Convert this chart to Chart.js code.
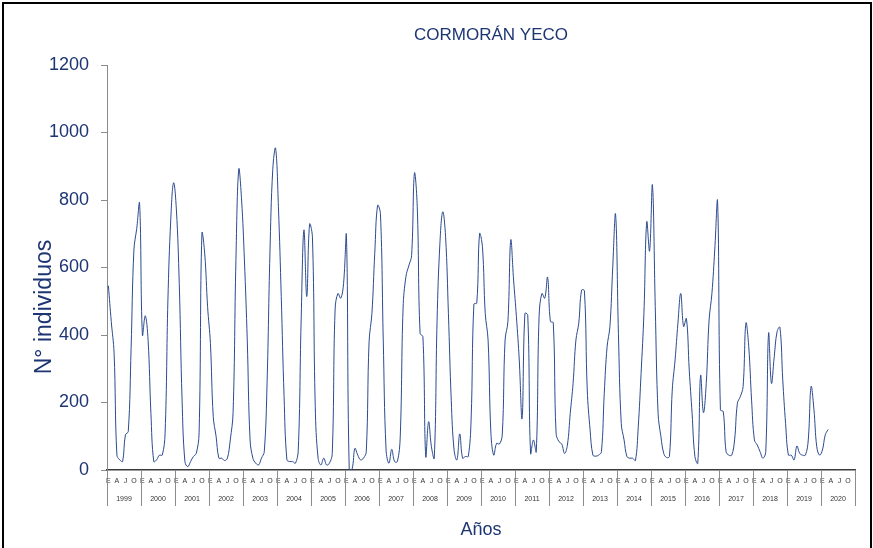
<!DOCTYPE html>
<html>
<head>
<meta charset="utf-8">
<script src="https://cdn.jsdelivr.net/npm/chart.js@4.4.1/dist/chart.umd.min.js"></script>
<style>
    html, body { margin: 0; padding: 0; background: #fff; overflow: hidden; }
    #wrap { position: absolute; left: 0; top: 0; width: 873px; height: 548px; }
    #frame { position: absolute; left: 2px; top: 2px; width: 866px; height: 560px; border: 2px solid #000; pointer-events: none; }
</style>
</head>
<body>
<div id="wrap"><canvas id="chart" width="873" height="548"></canvas></div>
<div id="frame"></div>
<script>
// year groups and month letters (E = enero ... D = diciembre)
const years = [1999, 2000, 2001, 2002, 2003, 2004, 2005, 2006, 2007, 2008, 2009,
    2010, 2011, 2012, 2013, 2014, 2015, 2016, 2017, 2018, 2019, 2020];
const monthLetters = ["E", "F", "M", "A", "M", "J", "J", "A", "S", "O", "N", "D"];
const shownMonths = [0, 3, 6, 9];
const yTicks = [0, 200, 400, 600, 800, 1000, 1200];

// monthly counts (data ends March 2020)
const counts = [
    546, 440, 346, 44, 30, 25, 104, 114, 360, 652, 716, 790,   // 1999
    400, 457, 385, 168, 25, 30, 44, 44, 109, 504, 741, 851,    // 2000
    770, 553, 207, 25, 10, 25, 40, 49, 110, 701, 640, 484,     // 2001
    375, 158, 100, 35, 35, 28, 35, 89, 170, 620, 891, 800,     // 2002
    622, 385, 89, 35, 20, 15, 35, 54, 260, 640, 890, 953,      // 2003
    780, 514, 217, 30, 25, 25, 20, 59, 435, 711, 514, 728,     // 2004
    691, 188, 35, 15, 35, 15, 20, 49, 474, 523, 509, 553,      // 2005
    694, 0, 3, 64, 44, 30, 35, 54, 380, 464, 642, 784,         // 2006
    760, 385, 59, 20, 61, 25, 25, 100, 480, 573, 605, 635,     // 2007
    879, 780, 405, 395, 40, 143, 69, 35, 444, 672, 765, 691,   // 2008
    464, 207, 59, 30, 107, 35, 40, 40, 148, 492, 494, 700,     // 2009
    662, 464, 385, 109, 44, 79, 77, 104, 385, 440, 681, 563,   // 2010
    454, 326, 153, 464, 459, 49, 89, 54, 454, 523, 509, 571,   // 2011
    440, 437, 109, 84, 77, 49, 74, 168, 257, 385, 435, 533,    // 2012
    531, 237, 119, 44, 41, 44, 54, 227, 365, 425, 602, 757,    // 2013
    405, 138, 89, 40, 35, 35, 28, 128, 286, 464, 735, 649,     // 2014
    844, 484, 168, 99, 49, 37, 40, 237, 326, 435, 523, 425,    // 2015
    449, 296, 168, 40, 20, 280, 170, 257, 444, 523, 652, 795,  // 2016
    178, 173, 54, 44, 44, 89, 198, 217, 247, 435, 365, 207,    // 2017
    89, 74, 54, 35, 54, 405, 257, 336, 410, 423, 267, 138,     // 2018
    44, 44, 30, 71, 49, 44, 44, 89, 247, 180, 69, 44,          // 2019
    59, 104, 120                                               // 2020
];

const navy = "#1d3573";
const fontFamily = "'Liberation Sans', Arial, sans-serif";

const labels = [];
years.forEach(yr => monthLetters.forEach((m, i) => labels.push(i + "-" + yr)));
const series = labels.map((_, i) => (i < counts.length ? counts[i] : null));

// title, y title and the year row under the month letters
const decorations = {
    id: "decorations",
    afterDraw(chart) {
        const {ctx} = chart;
        const x = chart.scales.x;
        ctx.save();
        ctx.fillStyle = navy;
        ctx.font = "17px " + fontFamily;
        ctx.textAlign = "center";
        ctx.textBaseline = "middle";
        ctx.fillText("CORMORÁN YECO", 491, 35);

        ctx.save();
        ctx.translate(45, 307);
        ctx.rotate(-Math.PI / 2);
        ctx.font = "23px " + fontFamily;
        ctx.fillText("N° individuos", 0, 0);
        ctx.restore();

        ctx.strokeStyle = "#8c8c8c";
        ctx.lineWidth = 1;
        for (let k = 0; k <= years.length; k++) {
            const px = Math.round(x.getPixelForValue(k * 12 - 0.5)) + 0.5;
            ctx.beginPath();
            ctx.moveTo(px, x.top);
            ctx.lineTo(px, x.top + 36);
            ctx.stroke();
        }
        ctx.fillStyle = "#333";
        ctx.font = "7px " + fontFamily;
        years.forEach((yr, k) => {
            ctx.fillText(String(yr), x.getPixelForValue(k * 12 + 5.5), 499);
        });
        ctx.restore();
    },
};

new Chart(document.getElementById("chart"), {
    type: "line",
    data: {
        labels,
        datasets: [{
            data: series,
            borderColor: "#2c4b8e",
            borderWidth: 1,
            pointRadius: 0,
            tension: 0.4,
            fill: false,
        }],
    },
    options: {
        responsive: false,
        animation: false,
        layout: {padding: {top: 65, right: 18, bottom: 0, left: 0}},
        plugins: {
            legend: {display: false},
            tooltip: {enabled: false},
        },
        scales: {
            x: {
                offset: true,
                grid: {display: false, drawTicks: false},
                border: {display: true, color: "#3a3a3a", width: 1.5},
                ticks: {
                    autoSkip: false,
                    maxRotation: 0,
                    minRotation: 0,
                    padding: 7,
                    color: "#333",
                    font: {family: fontFamily, size: 7},
                    callback: function (value, index) {
                        const m = index % 12;
                        return shownMonths.includes(m) ? monthLetters[m] : "";
                    },
                },
                title: {
                    display: true,
                    text: "Años",
                    color: navy,
                    font: {family: fontFamily, size: 18},
                    padding: {top: 0, bottom: 7},
                },
                afterFit: function (scale) { scale.height = 78; },
            },
            y: {
                min: yTicks[0],
                max: yTicks[yTicks.length - 1],
                afterBuildTicks: function (scale) {
                    scale.ticks = yTicks.map(v => ({value: v}));
                },
                grid: {drawOnChartArea: false, drawTicks: true, tickLength: 6, color: "#8a8a8a"},
                border: {display: true, color: "#8a8a8a", width: 1},
                ticks: {
                    padding: 12,
                    color: navy,
                    font: {family: fontFamily, size: 18},
                    callback: function (value) { return String(value); },
                },
                afterFit: function (scale) { scale.width = 107; },
            },
        },
    },
    plugins: [decorations],
});
</script>
</body>
</html>
